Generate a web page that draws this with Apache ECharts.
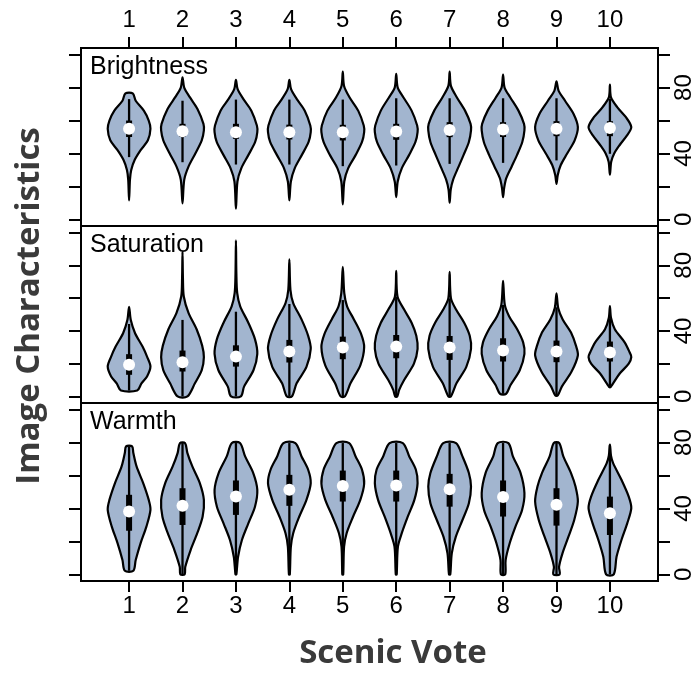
<!DOCTYPE html>
<html>
<head>
<meta charset="utf-8">
<script src="https://cdn.jsdelivr.net/npm/echarts@6/dist/echarts.min.js"></script>
<style>
  html, body { margin: 0; padding: 0; background: #fff; }
  #chart { width: 696px; height: 673px; }
</style>
</head>
<body>
<div id="chart"></div>
<script>
// Scenic vote categories and axis ticks
const votes = [1, 2, 3, 4, 5, 6, 7, 8, 9, 10];
const yTicks = [0, 20, 40, 60, 80, 100];
const yLabels = [0, 40, 80];
const panelNames = ['Brightness', 'Saturation', 'Warmth'];

// Brightness: box statistics per vote
const brightnessMedian = [55, 53.5, 52.9, 52.9, 52.9, 53.3, 54.3, 54.5, 55, 55.4];
const brightnessQ1 = [50, 50, 48.9, 48.5, 47.9, 48.3, 49.9, 50, 50.5, 50.5];
const brightnessQ3 = [60, 58, 58, 57.5, 57.4, 58, 59, 59, 59.6, 59.6];
const brightnessLow = [37.8, 34.7, 33.3, 33.3, 32.3, 32.7, 33.7, 34.3, 35.8, 39.8];
const brightnessHigh = [73, 72, 72.7, 72.7, 72.7, 73.5, 73.5, 73.5, 73.5, 73.2];
// Brightness: density outline, [value, relative half-width] from top to bottom
const brightnessShape = [
  [[76.5,0.17],[72,0.31],[66,0.69],[60,0.92],[55,1],[48,0.88],[42,0.54],[36,0.26],[30,0.1],[24,0.04],[11.5,0]],
  [[86.2,0],[80,0.08],[74,0.35],[67,0.7],[58,0.98],[54,1],[48,0.9],[40,0.6],[32,0.28],[24,0.08],[9.7,0]],
  [[84.7,0],[79,0.08],[73,0.35],[66,0.72],[57,0.98],[53,1],[47,0.9],[39,0.58],[31,0.25],[23,0.07],[6.5,0]],
  [[84.7,0],[79,0.08],[73,0.35],[66,0.72],[57,0.98],[53,1],[47,0.9],[39,0.58],[31,0.25],[23,0.07],[11.5,0]],
  [[89.7,0],[81,0.06],[74,0.32],[66,0.72],[57,0.98],[53,1],[47,0.9],[39,0.6],[31,0.25],[23,0.07],[9.1,0]],
  [[88.3,0],[80,0.07],[74,0.34],[66,0.72],[57,0.98],[53,1],[47,0.9],[39,0.6],[31,0.26],[23,0.07],[13.5,0]],
  [[89.7,0],[81,0.06],[74,0.34],[66,0.72],[58,0.98],[54,1],[47,0.9],[39,0.65],[32,0.42],[24,0.16],[18,0.05],[10.1,0]],
  [[87.9,0],[80,0.07],[74,0.34],[66,0.72],[58,0.98],[54,1],[47,0.9],[39,0.65],[32,0.4],[25,0.15],[19,0.05],[13.5,0]],
  [[83.8,0],[78,0.1],[72,0.4],[64,0.8],[56,1],[48,0.85],[40,0.5],[33,0.2],[27,0.06],[21.6,0]],
  [[81.8,0],[74,0.05],[68,0.35],[62,0.75],[56,1],[51,0.8],[45,0.45],[40,0.2],[35,0.06],[27.1,0]]
];

// Saturation: box statistics per vote
const saturationMedian = [19.3, 20.9, 24.3, 27.4, 29.8, 30.4, 29.8, 28, 27.4, 26.8];
const saturationQ1 = [13.2, 15.2, 18.2, 20.7, 22.7, 23.3, 22.3, 21.3, 20.9, 21.3];
const saturationQ3 = [25.8, 28, 31.2, 34.5, 36.5, 37.5, 36.9, 35.5, 34.1, 33.5];
const saturationLow = [3.6, 0, 0, 0, 0, 0, 0, 1.6, 0.6, 5.5];
const saturationHigh = [44.2, 46.7, 51.7, 56.4, 58.8, 60.8, 59.8, 55.8, 54.4, 47.7];
const saturationShape = [
  [[54.7,0],[46.6,0.08],[38.6,0.28],[30.4,0.63],[24.3,0.84],[18.2,1],[12.2,0.84],[8,0.58],[3.6,0.38]],
  [[88.2,0],[72,0.02],[61,0.06],[51,0.28],[41,0.66],[31,0.92],[24,1],[16,0.9],[8,0.58],[0,0.23]],
  [[95.3,0],[75,0.02],[63,0.06],[55,0.2],[45,0.58],[35,0.89],[26,1],[16,0.82],[6,0.38],[0,0.23]],
  [[83.6,0],[65,0.05],[57,0.18],[47,0.57],[37,0.88],[29,1],[18,0.8],[8,0.34],[0,0.12]],
  [[79.1,0],[63,0.07],[55,0.2],[47,0.52],[38,0.86],[30,1],[19,0.82],[8,0.36],[0,0.1]],
  [[76.6,0],[61,0.06],[53,0.37],[45,0.72],[37,0.94],[29,1],[20,0.83],[10,0.37],[4,0.14],[0,0.05]],
  [[76,0],[60,0.06],[53,0.3],[45,0.68],[37,0.94],[29,1],[18,0.78],[8,0.32],[0,0.06]],
  [[70.6,0],[56,0.08],[49,0.28],[41,0.66],[33,0.94],[26,1],[16,0.78],[7,0.35],[1.6,0.14]],
  [[62.9,0],[54,0.08],[47,0.29],[39,0.68],[31,0.91],[25,1],[15,0.7],[6,0.25],[0.6,0.06]],
  [[55.2,0],[48,0.05],[41,0.23],[33,0.69],[27,0.92],[24,1],[20,0.88],[14,0.46],[8,0.15],[5.5,0]]
];

// Warmth: box statistics per vote
const warmthMedian = [38.1, 41.6, 47.2, 51.3, 53.7, 53.9, 51.7, 46.9, 42.2, 37.1];
const warmthQ1 = [26.5, 30, 36.1, 41.6, 44.2, 44.2, 41.1, 35.1, 29.6, 23.9];
const warmthQ3 = [48.3, 52.3, 57, 60.4, 63, 63, 61, 57, 52.3, 47.2];
const warmthLow = [2.2, 0, 0, 0, 0, 0, 0, 0, 0, 0];
const warmthHigh = [77.7, 79.7, 79.7, 79.7, 79.7, 79.7, 79.7, 79.7, 79.7, 78.7];
const warmthShape = [
  [[77.7,0.14],[73.6,0.2],[65.5,0.35],[55.4,0.66],[45.2,0.92],[39.2,1],[29,0.81],[19,0.54],[8.7,0.31],[2.2,0.2]],
  [[79.7,0.12],[73.6,0.23],[65.5,0.46],[55.4,0.81],[45.2,1],[35,0.94],[25,0.69],[14.8,0.38],[4.6,0.13],[0,0.1]],
  [[79.7,0.19],[71.6,0.43],[61.5,0.81],[51.3,1],[41.1,0.89],[31,0.58],[20.9,0.28],[10.7,0.1],[0,0.02]],
  [[79.7,0.28],[71.6,0.57],[63.5,0.88],[55.4,1],[45.2,0.8],[35,0.46],[25,0.18],[16.8,0.07],[0,0.02]],
  [[79.7,0.3],[71.6,0.6],[63.5,0.9],[55,1],[45.2,0.82],[35,0.48],[25,0.18],[16.8,0.06],[0,0.02]],
  [[79.7,0.31],[71.6,0.61],[63.5,0.92],[55.4,1],[45.2,0.85],[35,0.54],[25,0.26],[16.8,0.08],[0,0.02]],
  [[79.7,0.3],[71.6,0.6],[61.5,0.9],[53.3,1],[43.2,0.9],[33,0.6],[22.9,0.29],[12.8,0.1],[0,0.03]],
  [[79.7,0.25],[71.6,0.46],[61.5,0.82],[49.3,1],[39.1,0.89],[29,0.58],[18.9,0.31],[8.7,0.12],[0,0.1]],
  [[79.7,0.13],[71.6,0.32],[61.5,0.68],[53.3,0.89],[44.2,1],[33,0.83],[22.9,0.56],[12.8,0.28],[4.6,0.12],[0,0.15]],
  [[78.7,0],[72,0.05],[67.5,0.15],[57.4,0.54],[47.2,0.88],[40.2,1],[31,0.81],[20.9,0.54],[10.7,0.31],[0,0.18]]
];

const panels = [
  { shape: brightnessShape, med: brightnessMedian, q1: brightnessQ1, q3: brightnessQ3, lo: brightnessLow, hi: brightnessHigh },
  { shape: saturationShape, med: saturationMedian, q1: saturationQ1, q3: saturationQ3, lo: saturationLow, hi: saturationHigh },
  { shape: warmthShape, med: warmthMedian, q1: warmthQ1, q3: warmthQ3, lo: warmthLow, hi: warmthHigh }
];

const FILL = '#a2b5cf';
const HALF = 0.4;           // maximum violin half-width in category units
const AXIS_FONT = 'Liberation Sans, Arial, sans-serif';
const TITLE_FONT = '"Open Sans", "Noto Sans", sans-serif';

const gridBoxes = [
  { top: 48, height: 178 },
  { top: 226, height: 177 },
  { top: 403, height: 178 }
];

function violinRenderer(p) {
  return function (params, api) {
    const i = params.dataIndex;
    const c = api.value(0);
    const prof = p.shape[i];
    const pts = [];
    prof.forEach(function (d) { pts.push(api.coord([c + d[1] * HALF, d[0]])); });
    for (let k = prof.length - 1; k >= 0; k--) {
      if (prof[k][1] === 0) continue;
      pts.push(api.coord([c - prof[k][1] * HALF, prof[k][0]]));
    }
    const pLo = api.coord([c, p.lo[i]]);
    const pHi = api.coord([c, p.hi[i]]);
    const pQ1 = api.coord([c, p.q1[i]]);
    const pQ3 = api.coord([c, p.q3[i]]);
    const pM = api.coord([c, p.med[i]]);
    return {
      type: 'group',
      children: [
        { type: 'polygon', shape: { points: pts, smooth: 0.3 },
          style: { fill: FILL, stroke: '#000', lineWidth: 2.2, lineJoin: 'round' } },
        { type: 'line', shape: { x1: pLo[0], y1: pLo[1], x2: pHi[0], y2: pHi[1] },
          style: { stroke: '#000', lineWidth: 2.3 } },
        { type: 'rect', shape: { x: pQ3[0] - 3, y: pQ3[1], width: 6, height: pQ1[1] - pQ3[1] },
          style: { fill: '#000' } },
        { type: 'circle', shape: { cx: pM[0], cy: pM[1], r: 6 },
          style: { fill: '#fff' } }
      ]
    };
  };
}

const grid = [], xAxis = [], yAxis = [], series = [], graphic = [];

gridBoxes.forEach(function (g, gi) {
  grid.push({ left: 81, width: 579, top: g.top, height: g.height,
    show: true, borderColor: '#000', borderWidth: 2, backgroundColor: 'transparent' });

  const showX = gi !== 1;
  xAxis.push({
    type: 'value', gridIndex: gi, min: 0.1, max: 10.9,
    position: gi === 0 ? 'top' : 'bottom',
    axisLine: { show: false, onZero: false },
    splitLine: { show: false },
    axisTick: { show: showX, customValues: votes, length: 11, lineStyle: { color: '#000', width: 2 } },
    axisLabel: { show: showX, customValues: votes, fontSize: 24, color: '#000', fontFamily: AXIS_FONT,
      margin: gi === 0 ? 16 : 13 }
  });

  yAxis.push({
    type: 'value', gridIndex: gi, min: -4, max: 104, position: 'left',
    axisLine: { show: false, onZero: false }, splitLine: { show: false },
    axisTick: { show: true, customValues: yTicks, length: 12, lineStyle: { color: '#000', width: 2 } },
    axisLabel: { show: false }
  });
  yAxis.push({
    type: 'value', gridIndex: gi, min: -4, max: 104, position: 'right',
    axisLine: { show: false, onZero: false }, splitLine: { show: false },
    axisTick: { show: true, customValues: yTicks, length: 12, lineStyle: { color: '#000', width: 2 } },
    axisLabel: { show: true, customValues: yLabels, rotate: 90, fontSize: 24, color: '#000',
      fontFamily: AXIS_FONT, margin: 14 }
  });

  series.push({
    type: 'custom', xAxisIndex: gi, yAxisIndex: gi * 2,
    data: votes.map(function (v) { return [v]; }),
    renderItem: violinRenderer(panels[gi]),
    silent: true
  });

  graphic.push({
    type: 'text', x: 90, y: g.top + 19,
    style: { text: panelNames[gi], font: '25px ' + AXIS_FONT, fill: '#000',
      align: 'left', verticalAlign: 'middle' }
  });
});

graphic.push({
  type: 'text', x: 30, y: 306, rotation: Math.PI / 2,
  style: { text: 'Image Characteristics', font: 'bold 33px ' + TITLE_FONT, fill: '#3a3a3a',
    align: 'center', verticalAlign: 'middle' }
});
graphic.push({
  type: 'text', x: 393, y: 654,
  style: { text: 'Scenic Vote', font: 'bold 33px ' + TITLE_FONT, fill: '#3a3a3a',
    align: 'center', verticalAlign: 'middle' }
});

const chart = echarts.init(document.getElementById('chart'), null, { renderer: 'canvas' });
chart.setOption({
  animation: false,
  backgroundColor: '#fff',
  grid: grid,
  xAxis: xAxis,
  yAxis: yAxis,
  series: series,
  graphic: graphic
});
</script>
</body>
</html>
